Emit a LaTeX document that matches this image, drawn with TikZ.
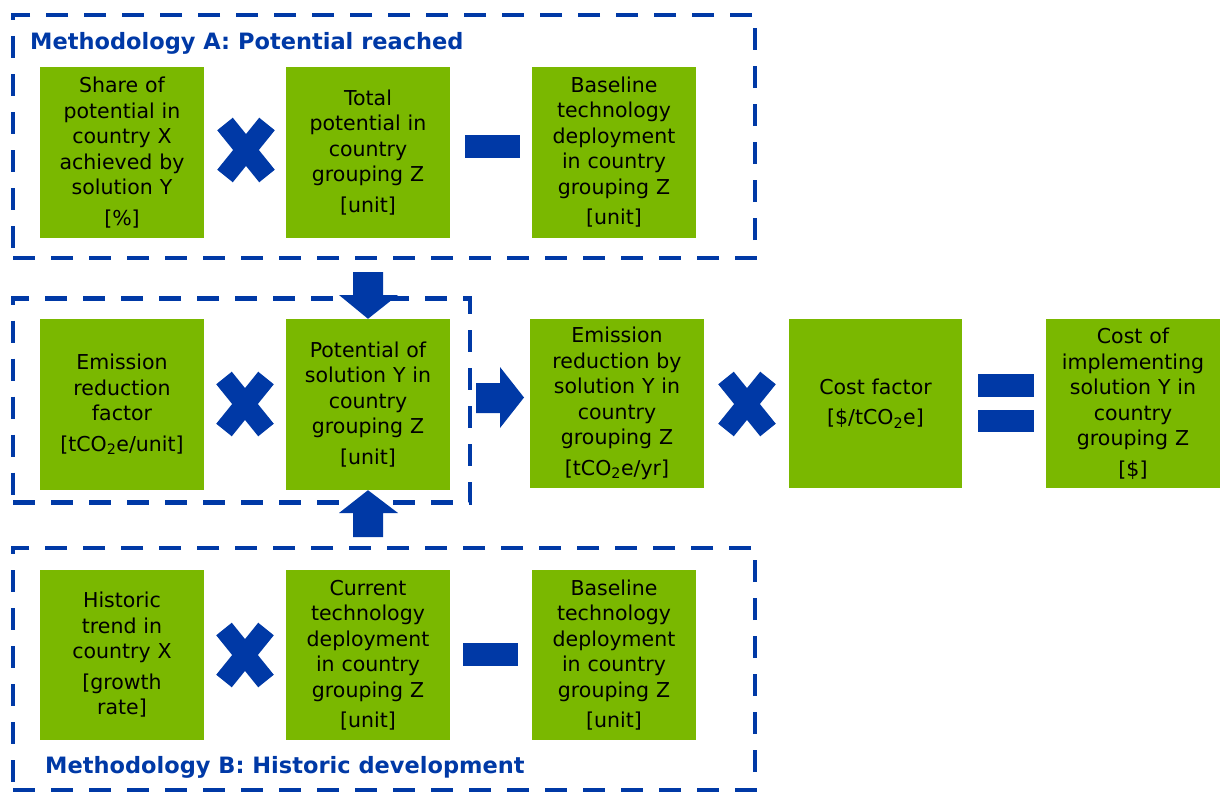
\documentclass[tikz,border=0pt]{standalone}
\usepackage{fontspec}
\setmainfont{DejaVu Sans}
\usetikzlibrary{calc}
\definecolor{lgreen}{RGB}{122,184,0}
\definecolor{dblue}{RGB}{0,57,166}
\begin{document}
\begin{tikzpicture}[x=1pt,y=-1pt,
  gbox/.style={fill=lgreen, minimum width=164pt, minimum height=171pt, inner sep=0pt,
    text width=162pt, align=center, font=\fontsize{20.5}{25.5}\selectfont},
  wbox/.style={gbox, minimum width=174pt, minimum height=169pt, text width=172pt},
  frame/.style={draw=dblue, line width=4.5pt, dash pattern=on 22pt off 16pt, inner sep=0pt},
  ttl/.style={text=dblue, font=\fontsize{22.5}{26}\selectfont\bfseries, inner sep=0pt, anchor=west},
  xarm/.style={draw=dblue, line width=20pt},
  bar/.style={fill=dblue}
]
\useasboundingbox (0,0) rectangle (1222,792);

% frames
\node[frame, minimum width=742pt, minimum height=243pt] (fa) at (384,136.5) {};
\node[frame, minimum width=457pt, minimum height=204pt] (fm) at (241.5,400.5) {};
\node[frame, minimum width=742pt, minimum height=242pt] (fb) at (384,669) {};

\node[ttl] (ta) at (30,43) {Methodology A: Potential reached};
\node[ttl] (tb) at (45,767) {Methodology B: Historic development};

% row 1
\node[gbox] (a1) at (122,152.5) {Share of\\potential in\\country X\\achieved by\\solution Y\\[5pt][\%]};
\node[gbox] (a2) at (368,152.5) {Total\\potential in\\country\\grouping Z\\[5pt][unit]};
\node[gbox] (a3) at (614,152) {Baseline\\technology\\deployment\\in country\\grouping Z\\[5pt][unit]};

% row 2
\node[gbox] (e1) at (122,404.5) {Emission\\reduction\\factor\\[5pt][tCO\textsubscript{2}e/unit]};
\node[gbox] (e2) at (368,404.5) {Potential of\\solution Y in\\country\\grouping Z\\[5pt][unit]};
\node[wbox] (m1) at (617,403.5) {Emission\\reduction by\\solution Y in\\country\\grouping Z\\[5pt][tCO\textsubscript{2}e/yr]};
\node[wbox, minimum width=173pt] (m2) at (875.5,403.5) {Cost factor\\[5pt][\$/tCO\textsubscript{2}e]};
\node[wbox] (m3) at (1133,403.5) {Cost of\\implementing\\solution Y in\\country\\grouping Z\\[5pt][\$]};

% row 3
\node[gbox, minimum height=170pt] (b1) at (122,655) {Historic\\trend in\\country X\\[5pt][growth\\rate]};
\node[gbox, minimum height=170pt] (b2) at (368,655) {Current\\technology\\deployment\\in country\\grouping Z\\[5pt][unit]};
\node[gbox, minimum height=170pt] (b3) at (614,655) {Baseline\\technology\\deployment\\in country\\grouping Z\\[5pt][unit]};

% operators
\foreach \n/\cx/\cy in {x1/246/150, x2/245/404, x3/245/655, x4/747/404}{
  \coordinate (\n) at (\cx,\cy);
  \draw[xarm] ($(\n)+(-21,-26)$) -- ($(\n)+(21,26)$);
  \draw[xarm] ($(\n)+(21,-26)$) -- ($(\n)+(-21,26)$);
}
\fill[bar] (465,135) rectangle (520,158);
\fill[bar] (463,643) rectangle (518,666);
\fill[bar] (978,374) rectangle (1034,397);
\fill[bar] (978,410) rectangle (1034,432);

% arrows
\fill[dblue] (353,272) -- (383,272) -- (383,295) -- (398,295) -- (e2.north) -- (339,295) -- (353,295) -- cycle;
\fill[dblue] (353,537) -- (383,537) -- (383,513) -- (398,513) -- (e2.south) -- (339,513) -- (353,513) -- cycle;
\fill[dblue] (476,383) -- (500,383) -- (500,367) -- (524,397.5) -- (500,428) -- (500,413) -- (476,413) -- cycle;
\end{tikzpicture}
\end{document}
